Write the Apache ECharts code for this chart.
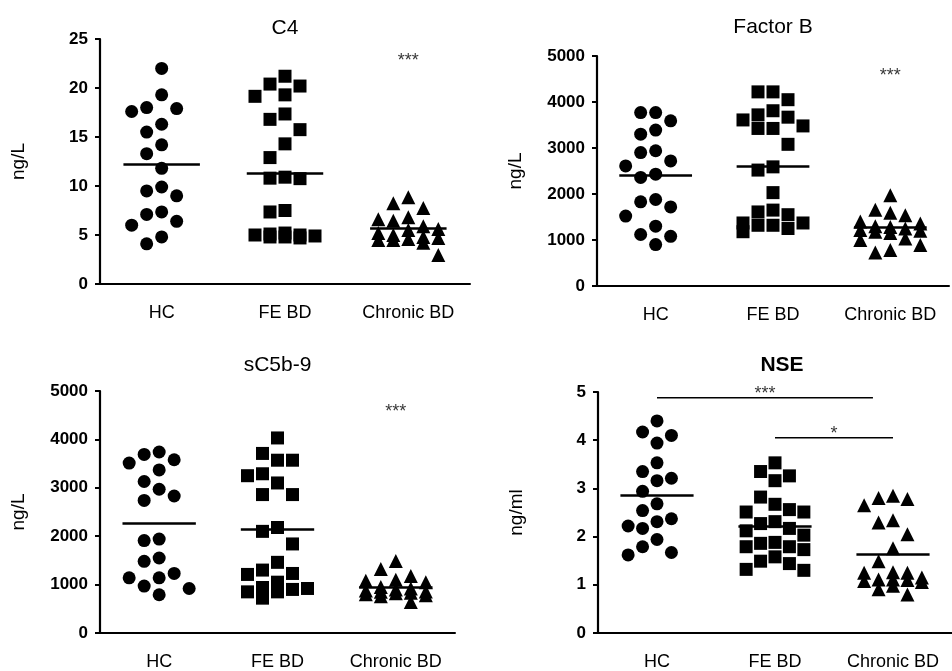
<!DOCTYPE html>
<html>
<head>
<meta charset="utf-8">
<script src="https://cdn.jsdelivr.net/npm/echarts@6/dist/echarts.min.js"></script>
<style>html,body{margin:0;padding:0;background:#fff}#c{width:952px;height:671px}</style>
</head>
<body>
<div id="c"></div>
<script>
// ---------- data ----------
const categories = ['HC', 'FE BD', 'Chronic BD'];

const c4HC  = [22.0, 19.3, 17.6, 18.0, 17.9, 16.3, 15.5, 14.2, 13.3, 11.8, 9.9, 9.5, 9.0, 7.35, 7.1, 6.4, 6.0, 4.8, 4.1];
const c4FE  = [20.4, 21.2, 20.2, 19.3, 19.15, 17.35, 16.8, 15.75, 14.3, 12.9, 10.9, 10.75, 10.8, 7.5, 7.35, 5.2, 4.8, 5.0, 4.7, 5.1, 4.8, 5.0, 4.9];
const c4CBD = [8.85, 8.25, 7.75, 6.8, 6.45, 6.6, 5.9, 5.6, 5.5, 5.2, 5.0, 4.8, 4.5, 4.5, 4.6, 4.2, 4.7, 2.95];
const c4Mean = [12.2, 11.35, 5.7];

const fbHC  = [3390, 3300, 3770, 3770, 3590, 2940, 2900, 2720, 2610, 2430, 2360, 1880, 1830, 1720, 1520, 1300, 1120, 1080, 900];
const fbFE  = [4220, 4050, 4220, 3610, 3425, 3425, 3720, 3810, 3480, 3670, 3080, 2590, 2520, 2030, 1610, 1550, 1650, 1370, 1320, 1370, 1250, 1320, 1180];
const fbCBD = [1975, 1660, 1590, 1540, 1400, 1360, 1300, 1280, 1250, 1220, 1200, 1180, 1150, 1030, 1000, 890, 780, 730];
const fbMean = [2400, 2600, 1270];

const scHC  = [3690, 3510, 3580, 3740, 3370, 3130, 2970, 2740, 2830, 1940, 1910, 1480, 1550, 1140, 1140, 1230, 970, 920, 790];
const scFE  = [4030, 3710, 3570, 3570, 3250, 3290, 3100, 2860, 2860, 2100, 2180, 1840, 1460, 1300, 1210, 1230, 920, 850, 1050, 940, 850, 900, 720];
const scCBD = [1490, 1320, 1180, 1080, 1100, 1050, 950, 920, 900, 880, 860, 850, 830, 820, 800, 780, 760, 640];
const scMean = [2265, 2140, 940];

const nseHC  = [4.40, 4.17, 4.10, 3.94, 3.53, 3.35, 3.21, 3.16, 2.94, 2.68, 2.54, 2.31, 2.37, 2.22, 2.17, 1.94, 1.79, 1.62, 1.67];
const nseFE  = [3.53, 3.26, 3.35, 3.16, 2.82, 2.67, 2.51, 2.51, 2.56, 2.31, 2.17, 2.27, 2.12, 1.86, 1.73, 2.03, 1.79, 1.79, 1.88, 1.58, 1.44, 1.49, 1.30, 1.32];
const nseCBD = [2.80, 2.78, 2.85, 2.65, 2.29, 2.34, 2.05, 1.76, 1.49, 1.25, 1.11, 1.26, 1.11, 1.15, 1.10, 1.08, 1.25, 1.06, 0.98, 0.91, 0.80];
const nseMean = [2.85, 2.22, 1.63];

const titles = ['C4', 'Factor B', 'sC5b-9', 'NSE'];
const units = ['ng/L', 'ng/L', 'ng/L', 'ng/ml'];
const yMax = [25, 5000, 5000, 5];
const yInterval = [5, 1000, 1000, 1];
// significance marks: [category index, value, text]
const c4Sig = [2, 23.2, '***'];
const fbSig = [2, 4650, '***'];
const scSig = [2, 4650, '***'];
// NSE brackets: [from category, to category, value, text]
const nseBrackets = [[0, 1.83, 4.88, '***'], [1, 2, 4.05, '*']];

// ---------- layout ----------
const FONT = 'Liberation Sans, Arial, sans-serif';
const grids = [
  {left: 100, top: 39, width: 370, height: 245},
  {left: 597, top: 56, width: 352, height: 230},
  {left: 100, top: 391, width: 355, height: 245},
  {left: 598, top: 392, width: 368, height: 244}
];
const titleTop = [18, 17, 355, 355];
const panels = [
  {groups: [c4HC, c4FE, c4CBD], means: c4Mean, sig: [c4Sig], brackets: []},
  {groups: [fbHC, fbFE, fbCBD], means: fbMean, sig: [fbSig], brackets: []},
  {groups: [scHC, scFE, scCBD], means: scMean, sig: [scSig], brackets: []},
  {groups: [nseHC, nseFE, nseCBD], means: nseMean, sig: [], brackets: nseBrackets}
];
const symbols = ['circle', 'rect', 'triangle'];
const symbolSizes = [13, 13, 14];

// beeswarm column placement computed from values (no typed positions)
function swarm(values, pxPerUnit, catW) {
  const colPx = 15, minD = 17;
  const order = values.map((v, i) => i).sort((a, b) => values[b] - values[a]);
  const placed = [];
  const res = new Array(values.length);
  const cands = [0, -1, 1, -2, 2];
  for (const i of order) {
    const py = values[i] * pxPerUnit;
    let best = 0, bestD = -1;
    for (const c of cands) {
      let d = Infinity;
      for (const p of placed) if (p.c === c) d = Math.min(d, Math.abs(p.py - py));
      if (d >= minD) { best = c; break; }
      if (d > bestD) { bestD = d; best = c; }
    }
    placed.push({c: best, py});
    res[i] = best * colPx / catW;
  }
  return res;
}

const option = {
  animation: false,
  backgroundColor: '#fff',
  title: [], grid: [], xAxis: [], yAxis: [], series: []
};

panels.forEach((p, i) => {
  const g = grids[i];
  option.grid.push(Object.assign({containLabel: false}, g));
  option.title.push({
    text: titles[i], left: g.left + g.width / 2, top: titleTop[i], textAlign: 'center', padding: 0,
    textStyle: {fontFamily: FONT, fontSize: 21, fontWeight: i === 3 ? 'bold' : 'normal', color: '#000'}
  });
  option.xAxis.push({
    type: 'category', gridIndex: i, data: categories, boundaryGap: true,
    axisLine: {onZero: false, lineStyle: {color: '#000', width: 2}},
    axisTick: {alignWithLabel: true, length: 5, lineStyle: {color: '#000', width: 2}},
    axisLabel: {color: '#000', fontFamily: FONT, fontSize: 18, margin: 20, interval: 0},
    splitLine: {show: false}
  });
  option.xAxis.push({type: 'value', gridIndex: i, min: -0.5, max: 2.5, show: false,
    axisLine: {onZero: false}});
  option.yAxis.push({
    type: 'value', gridIndex: i, min: 0, max: yMax[i], interval: yInterval[i],
    position: 'left',
    name: units[i], nameLocation: 'middle', nameGap: 72,
    nameTextStyle: {color: '#000', fontFamily: FONT, fontSize: 19},
    axisLine: {show: true, onZero: false, lineStyle: {color: '#000', width: 2.2}},
    axisTick: {show: true, length: 5, lineStyle: {color: '#000', width: 2}},
    axisLabel: {color: '#000', fontFamily: FONT, fontSize: 17, fontWeight: 'bold', margin: 12,
      formatter: v => String(v)},
    splitLine: {show: false}
  });
  const pxPerUnit = g.height / yMax[i];
  const catW = g.width / 3;
  p.groups.forEach((vals, k) => {
    const off = swarm(vals, pxPerUnit, catW);
    option.series.push({
      type: 'scatter', xAxisIndex: i * 2 + 1, yAxisIndex: i,
      symbol: symbols[k], symbolSize: symbolSizes[k],
      itemStyle: {color: '#000', opacity: 1},
      data: vals.map((v, j) => [k + off[j], v]),
      markLine: {
        silent: true, symbol: 'none', label: {show: false},
        lineStyle: {color: '#000', width: 2.5, type: 'solid'},
        data: [[{coord: [k - 0.31, p.means[k]]}, {coord: [k + 0.31, p.means[k]]}]]
      },
      z: 3
    });
  });
  p.sig.forEach(s => {
    option.series.push({
      type: 'scatter', xAxisIndex: i * 2 + 1, yAxisIndex: i, symbolSize: 0,
      data: [[s[0], s[1]]],
      label: {show: true, position: 'inside', offset: [0, 4], formatter: s[2], color: '#000', fontFamily: FONT, fontSize: 18}
    });
  });
  p.brackets.forEach(b => {
    option.series.push({
      type: 'line', xAxisIndex: i * 2 + 1, yAxisIndex: i, symbol: 'none',
      lineStyle: {color: '#000', width: 1.5},
      data: [[b[0], b[2]], [b[1], b[2]]]
    });
    option.series.push({
      type: 'scatter', xAxisIndex: i * 2 + 1, yAxisIndex: i, symbolSize: 0,
      data: [[(b[0] + b[1]) / 2, b[2]]],
      label: {show: true, position: 'top', distance: -5, formatter: b[3], color: '#000', fontFamily: FONT, fontSize: 18}
    });
  });
});

const chart = echarts.init(document.getElementById('c'), null, {renderer: 'canvas'});
chart.setOption(option);
</script>
</body>
</html>
